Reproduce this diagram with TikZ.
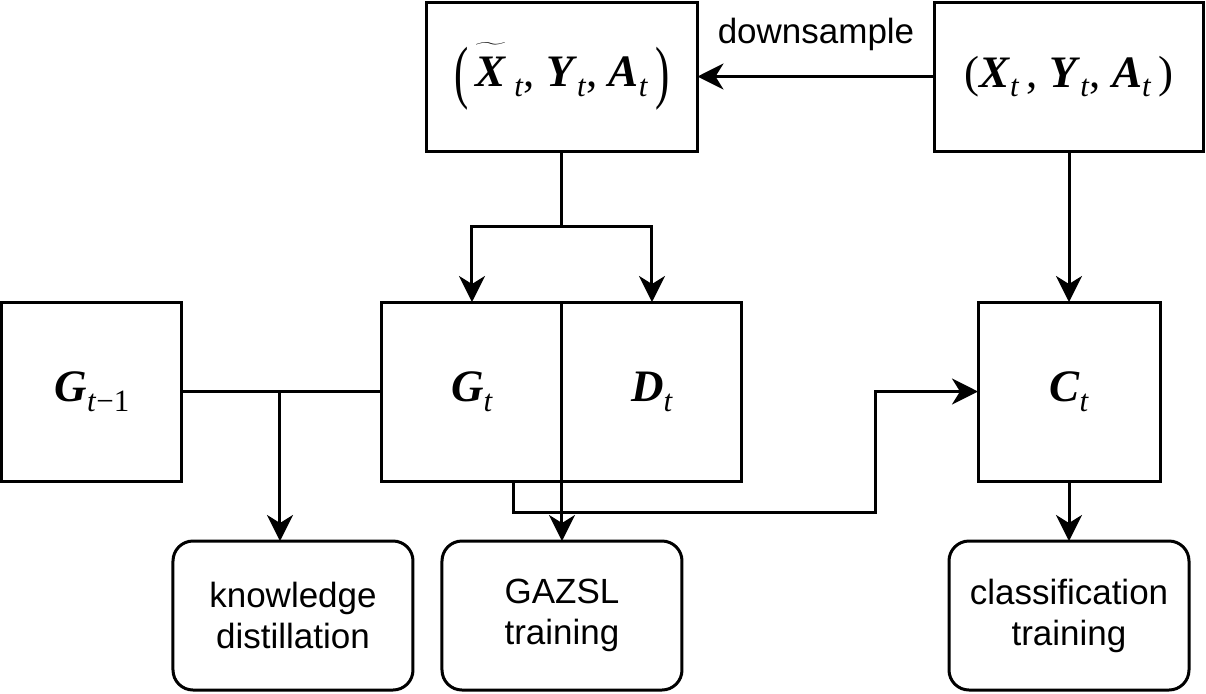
\documentclass[tikz,border=0pt]{standalone}
\usepackage{fontspec}
\usepackage{graphicx}
\setmainfont{Liberation Serif}
\setsansfont{Liberation Sans}
\usetikzlibrary{arrows.meta, positioning, calc}
\tikzset{
  base/.style = {
    draw, line width=1.5pt, outer sep=0pt, inner sep=0pt, text centered
  },
  block/.style = {
    base, minimum width=90pt, minimum height=89.5pt,
    font=\fontsize{22.5}{26}\selectfont
  },
  pair/.style = {
    block, minimum width=135.5pt, minimum height=74.5pt
  },
  task/.style = {
    base, rounded corners=10pt, minimum width=120pt, minimum height=74.5pt,
    align=center, font=\sffamily\fontsize{17.5}{20.5}\selectfont
  },
  link/.style = {line width=1.5pt},
  arrow/.style = {
    line width=1.5pt, -{Stealth[length=13pt, width=13pt, inset=4pt]}
  }
}
\newcommand{\subt}[1]{\raisebox{-0.22em}{\fontsize{15.5}{15.5}\selectfont #1}}
\newcommand{\bvar}[2]{\textbf{\textit{#1}}\subt{#2}}
\newcommand{\bigpar}[1]{\raisebox{-4.5pt}{\scalebox{0.95}[1.55]{#1}}}

\begin{document}
\begin{tikzpicture}[
  node distance = 30pt and 100pt
  ]
  \useasboundingbox (-236pt,-150.75pt) rectangle (367pt,195.75pt);

  % Middle row
  \node[block] (gt) {\bvar{G}{\textit{t}}};
  \node[block, right=0pt of gt] (dt) {\bvar{D}{\textit{t}}};
  \node[block, left=100pt of gt] (gprev) {\bvar{G}{\textit{t}−1}};
  \node[block, right=118pt of dt, minimum width=91pt] (ct) {\bvar{C}{\textit{t}}};

  % Top row
  \node[pair, above=75.5pt of gt.north east] (xt)
    {\bigpar{(}\,$\widetilde{\rule{0pt}{0.82em}\mbox{\textbf{\textit{X}}}}$\,\subt{\textit{t}}, \bvar{Y}{\textit{t}}, \bvar{A}{\textit{t}}\,\bigpar{)}};
  \node[pair, right=118.5pt of xt, minimum width=134.5pt] (xo)
    {(\bvar{X}{\textit{t}}\,, \bvar{Y}{\textit{t}}, \bvar{A}{\textit{t}}\,)};

  % Bottom row
  \node[task, below=30pt of gt.south east] (gazsl) {GAZSL\\training};
  \node[task, left=14.5pt of gazsl] (kd) {knowledge\\distillation};
  \node[task, below=30pt of ct] (cls) {classification\\training};

  % Top arrows
  \draw[arrow] (xo) -- node[above=9pt, font=\sffamily\fontsize{17.5}{20}\selectfont] {downsample} (xt);
  \draw[link] (xt.south) -- ++(0,-37.5pt) coordinate (split);
  \draw[arrow] (split) -| (gt.north);
  \draw[arrow] (split) -| (dt.north);
  \draw[arrow] (xo) -- (ct);

  % Middle to bottom
  \draw[link] (gprev) -- (gt);
  \coordinate (kdin) at ($(gprev.east)!0.49!(gt.west)$);
  \draw[arrow] (kdin) -- (kdin |- kd.north);
  \draw[arrow] (gt.south east) -- (gazsl.north);
  \coordinate (gtout) at ($(gt.south west)!0.733!(gt.south east)$);
  \coordinate (bend) at ($(ct.west)+(-51.5pt,0)$);
  \draw[arrow] (gtout) -- ++(0,-15.5pt) -| (bend) -- (ct.west);
  \draw[arrow] (ct) -- (cls);

\end{tikzpicture}
\end{document}
